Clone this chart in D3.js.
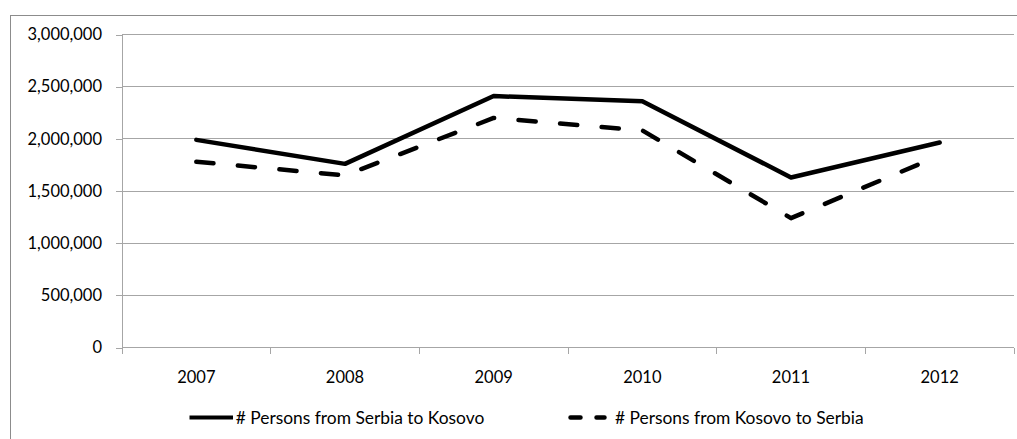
<!DOCTYPE html>
<html>
<head>
<meta charset="utf-8">
<script src="https://cdn.jsdelivr.net/npm/d3@7"></script>
<style>
  html, body { margin: 0; padding: 0; background: #fff; }
  svg { display: block; }
  text { font-family: Lato, "Open Sans", sans-serif; fill: #000; }
</style>
</head>
<body>
<svg id="chart" width="1017" height="439"></svg>
<script>
// Border crossings per year
const years = ["2007", "2008", "2009", "2010", "2011", "2012"];
const serbiaToKosovo = [1990000, 1760000, 2410000, 2360000, 1630000, 1965000];
const kosovoToSerbia = [1780000, 1650000, 2200000, 2080000, 1240000, 1840000];
const yTicks = [0, 500000, 1000000, 1500000, 2000000, 2500000, 3000000];
const seriesNames = ["# Persons from Serbia to Kosovo", "# Persons from Kosovo to Serbia"];

const svg = d3.select("#chart");
const W = 1017, H = 439;
const plot = { left: 122, right: 1014, top: 34.5, bottom: 347.5 };
const gridColor = "#a6a6a6";
const fontSize = 16.5;
const legendFontSize = 17.4;

// outer chart frame (runs off the right and bottom edges)
svg.append("rect")
  .attr("x", 10.5).attr("y", 15.5)
  .attr("width", W + 10).attr("height", H + 10)
  .attr("fill", "none").attr("stroke", "#8c8c8c").attr("stroke-width", 1);

const x = d3.scaleBand().domain(years).range([plot.left, plot.right]);
const y = d3.scaleLinear().domain([0, 3000000]).range([plot.bottom, plot.top]);
const cx = d => x(d) + x.bandwidth() / 2;

// horizontal gridlines
svg.append("g").selectAll("line")
  .data(yTicks.filter(v => v > 0))
  .join("line")
  .attr("x1", plot.left).attr("x2", plot.right)
  .attr("y1", d => y(d)).attr("y2", d => y(d))
  .attr("stroke", gridColor).attr("stroke-width", 1)
  .attr("shape-rendering", "crispEdges");

// y axis
const yAxis = svg.append("g")
  .attr("transform", `translate(${plot.left},0)`)
  .call(d3.axisLeft(y).tickValues(yTicks).tickFormat(d3.format(",")).tickSize(6).tickPadding(14));
yAxis.select(".domain").attr("stroke", gridColor).attr("shape-rendering", "crispEdges");
yAxis.selectAll(".tick line").attr("stroke", gridColor).attr("shape-rendering", "crispEdges");
yAxis.selectAll("text").attr("font-size", fontSize).attr("font-family", "Lato, sans-serif").attr("fill", "#000");

// x axis: labels centred in each band, tick marks on the band boundaries
const xAxis = svg.append("g")
  .attr("transform", `translate(0,${plot.bottom})`)
  .call(d3.axisBottom(x).tickSize(0).tickPadding(0));
xAxis.select(".domain").remove();
xAxis.selectAll("text")
  .attr("y", 30).attr("dy", "0.35em")
  .attr("font-size", fontSize).attr("font-family", "Lato, sans-serif").attr("fill", "#000");
xAxis.append("line")
  .attr("x1", plot.left).attr("x2", plot.right).attr("y1", 0).attr("y2", 0)
  .attr("stroke", gridColor).attr("shape-rendering", "crispEdges");
xAxis.selectAll(".bound")
  .data(years.map(d => x(d)).concat([plot.right]))
  .join("line")
  .attr("class", "bound")
  .attr("x1", d => d).attr("x2", d => d).attr("y1", 0).attr("y2", 6)
  .attr("stroke", gridColor).attr("shape-rendering", "crispEdges");

// series lines
const line = d3.line().x((d, i) => cx(years[i])).y(d => y(d));
const dash = "17.2,24.5";
svg.append("path").datum(serbiaToKosovo)
  .attr("d", line).attr("fill", "none").attr("stroke", "#000")
  .attr("stroke-width", 4.5).attr("stroke-linecap", "round").attr("stroke-linejoin", "round");
svg.append("path").datum(kosovoToSerbia)
  .attr("d", line).attr("fill", "none").attr("stroke", "#000")
  .attr("stroke-width", 4.5).attr("stroke-linecap", "round").attr("stroke-linejoin", "round")
  .attr("stroke-dasharray", dash);

// legend
const legY = 417.6;
const leg = svg.append("g");
leg.append("line")
  .attr("x1", 189.5).attr("x2", 233).attr("y1", legY).attr("y2", legY)
  .attr("stroke", "#000").attr("stroke-width", 4);
leg.append("text").attr("x", 235.7).attr("y", legY).attr("dy", "0.35em")
  .attr("font-size", legendFontSize).text(seriesNames[0]);
leg.append("line")
  .attr("x1", 570.5).attr("x2", 604.5).attr("y1", legY).attr("y2", legY)
  .attr("stroke", "#000").attr("stroke-width", 4.5).attr("stroke-linecap", "round")
  .attr("stroke-dasharray", "10,16");
leg.append("text").attr("x", 615).attr("y", legY).attr("dy", "0.35em")
  .attr("font-size", legendFontSize).text(seriesNames[1]);
</script>
</body>
</html>
